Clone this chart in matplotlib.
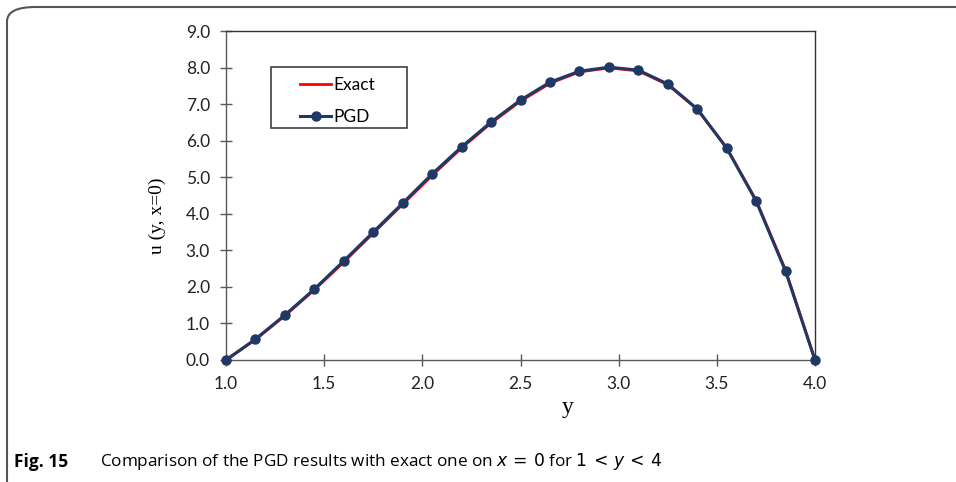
import matplotlib
matplotlib.use("Agg")
import matplotlib.pyplot as plt
from matplotlib.patches import FancyBboxPatch, Rectangle
from matplotlib.ticker import FormatStrFormatter

# Data
y_vals = [1.0, 1.15, 1.30, 1.45, 1.60, 1.75, 1.90, 2.05, 2.20, 2.35, 2.50,
          2.65, 2.80, 2.95, 3.10, 3.25, 3.40, 3.55, 3.70, 3.85, 4.0]
pgd_vals = [0.0, 0.57, 1.23, 1.94, 2.71, 3.50, 4.29, 5.09, 5.83, 6.51, 7.11,
            7.60, 7.90, 8.01, 7.93, 7.55, 6.87, 5.80, 4.35, 2.43, 0.0]
exact_vals = [0.0, 0.56, 1.21, 1.92, 2.68, 3.47, 4.26, 5.05, 5.80, 6.48, 7.08,
              7.57, 7.88, 7.99, 7.91, 7.53, 6.86, 5.80, 4.37, 2.46, 0.0]
x_ticks = [1.0, 1.5, 2.0, 2.5, 3.0, 3.5, 4.0]
y_ticks = [0.0, 1.0, 2.0, 3.0, 4.0, 5.0, 6.0, 7.0, 8.0, 9.0]

W, H = 956, 482
fig = plt.figure(figsize=(W / 100, H / 100), dpi=100)

# outer rounded frame (only top-left part visible)
frame = FancyBboxPatch((7 / W, -0.2), 1.2, (482 - 7) / H + 0.2,
                       boxstyle="round,pad=0,rounding_size=0.03",
                       transform=fig.transFigure, facecolor="none",
                       edgecolor="#555555", linewidth=1.5, clip_on=False)
fig.patches.append(frame)

AX_L, AX_R, AX_T, AX_B = 226, 815, 31, 360
ax = fig.add_axes([AX_L / W, (H - AX_B) / H, (AX_R - AX_L) / W, (AX_B - AX_T) / H])


def ax_x(px):
    return (px - AX_L) / (AX_R - AX_L)


def ax_y(py):
    return (AX_B - py) / (AX_B - AX_T)


ax.plot(y_vals, exact_vals, color="#FF0000", linewidth=2.0, label="Exact", zorder=3)
ax.plot(y_vals, pgd_vals, color="#1F3864", linewidth=2.2, marker="o",
        markersize=6.5, label="PGD", zorder=4, clip_on=False)

ax.set_xlim(1.0, 4.0)
ax.set_ylim(0.0, 9.0)
ax.set_xticks(x_ticks)
ax.set_yticks(y_ticks)
ax.xaxis.set_major_formatter(FormatStrFormatter("%.1f"))
ax.yaxis.set_major_formatter(FormatStrFormatter("%.1f"))

for s in ax.spines.values():
    s.set_color("#333333")
    s.set_linewidth(1.0)
ax.spines["left"].set_color("#595959")
ax.spines["bottom"].set_color("#595959")

ax.tick_params(axis="both", direction="inout", length=9, width=1.0,
               color="#595959", labelsize=12.5, labelcolor="#222222")
ax.tick_params(axis="x", pad=7)
ax.tick_params(axis="y", pad=7)
for lab in ax.get_xticklabels() + ax.get_yticklabels():
    lab.set_family("Lato")

ax.set_xlabel("y", family="Liberation Serif", fontsize=17)
ax.set_ylabel("u (y, x=0)", family="Liberation Serif", fontsize=14)
ax.xaxis.set_label_coords(ax_x(568), ax_y(408))
ax.yaxis.set_label_coords(ax_x(157), ax_y(216))
ax.xaxis.label.set_va("center")
ax.yaxis.label.set_va("center")

# legend box (manual frame) and frameless legend entries
ax.add_patch(Rectangle((ax_x(271), ax_y(128)), ax_x(407) - ax_x(271),
                       ax_y(67) - ax_y(128), transform=ax.transAxes,
                       facecolor="white", edgecolor="#404040", linewidth=1.2,
                       zorder=5))
leg = ax.legend(loc="upper left", bbox_to_anchor=(ax_x(300), ax_y(77)),
                frameon=False, handlelength=1.8, handletextpad=0.12,
                borderpad=0, labelspacing=0.9, borderaxespad=0,
                prop={"family": "Lato", "size": 12.5})
leg.set_zorder(6)

fig.text(14 / W, 1 - 462 / H, "Fig. 15", family="Open Sans", weight="bold",
         fontsize=12.5, va="center", ha="left")
fig.text(100 / W, 1 - 462 / H,
         r"Comparison of the PGD results with exact one on $x\,=\,0$ for $1\,<\,y\,<\,4$",
         family="Open Sans", fontsize=12.3, va="center", ha="left")

fig.savefig("out.png", dpi=100)
